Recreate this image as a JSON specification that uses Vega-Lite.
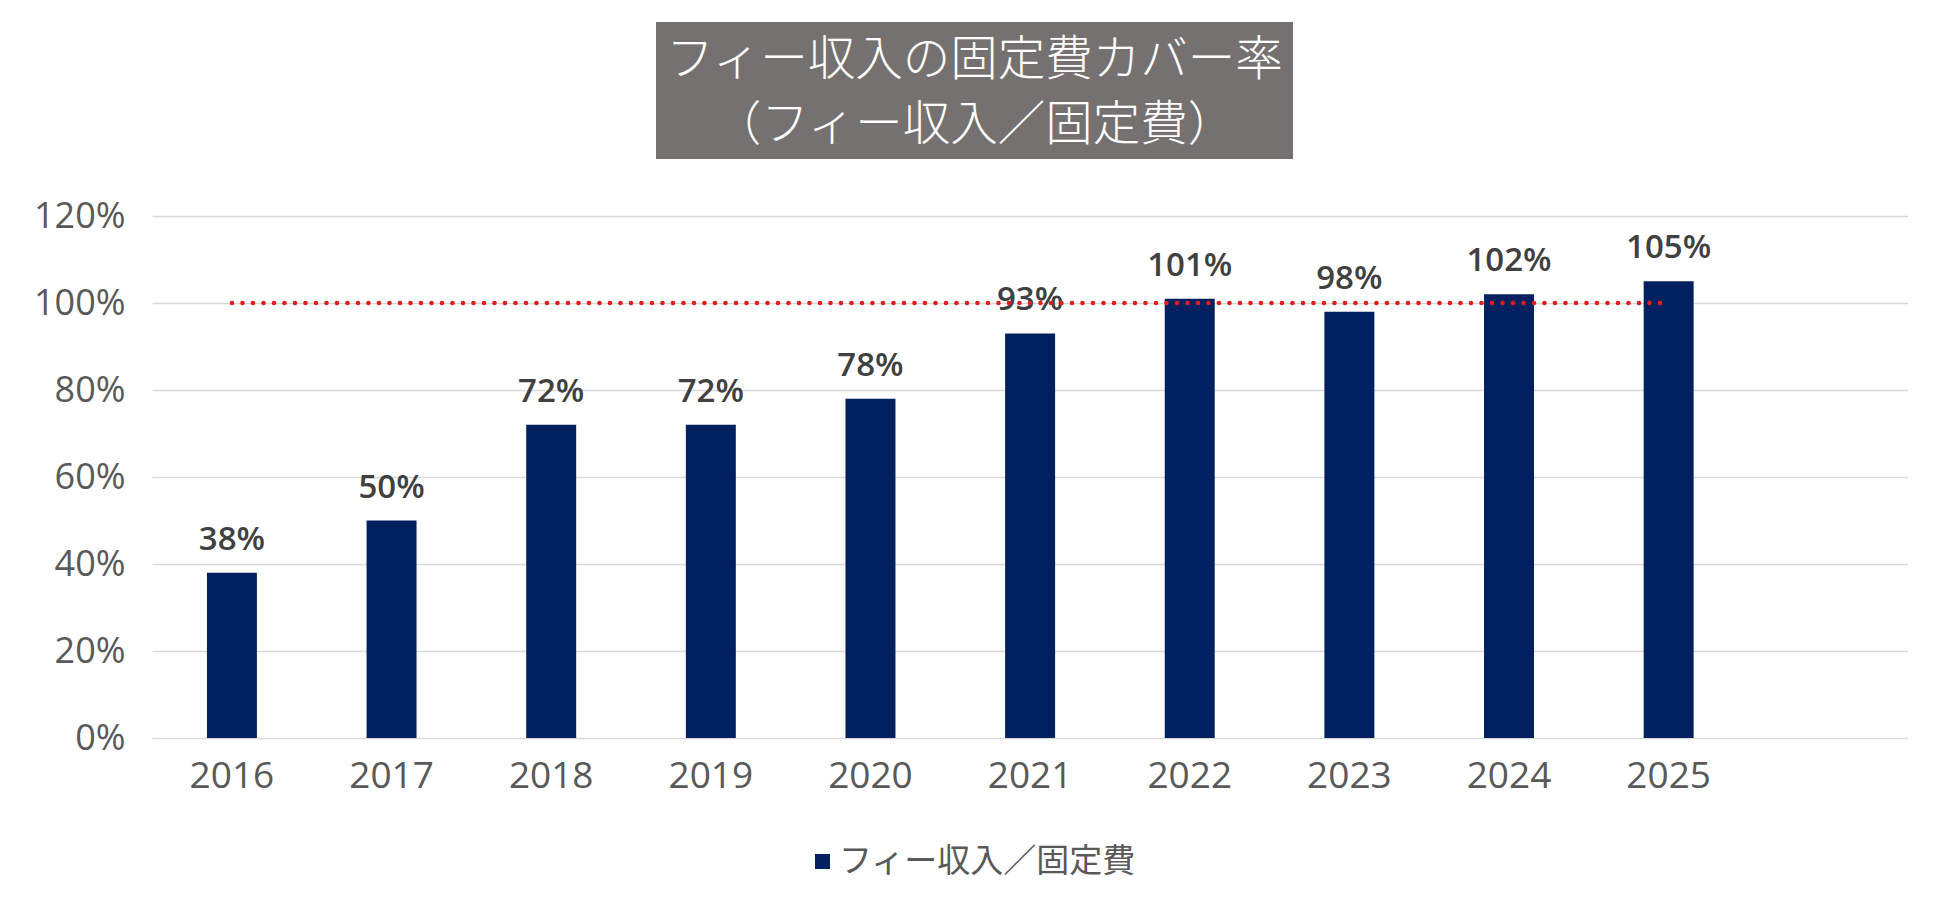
{
  "$schema": "https://vega.github.io/schema/vega-lite/v6.json",
  "background": "white",
  "autosize": {"type": "pad"},
  "padding": {"left": 33, "top": 22, "right": 0, "bottom": 0},
  "config": {
    "font": "Open Sans",
    "view": {"stroke": null}
  },
  "center": true,
  "bounds": "full",
  "spacing": 39,
  "resolve": {"legend": {"color": "independent"}},
  "vconcat": [
    {
      "spacing": 0,
      "hconcat": [
        {
          "width": 637,
          "height": 137,
          "view": {"fill": "#767171", "stroke": null},
          "data": {
            "values": [
              {"line": 1, "label": "フィー収入の固定費カバー率"},
              {"line": 2, "label": "（フィー収入／固定費）"}
            ]
          },
          "mark": {
            "type": "text",
            "font": "Noto Sans CJK JP",
            "fontSize": 47.5,
            "fontWeight": 300,
            "color": "#FFFFFF",
            "align": "center",
            "baseline": "middle",
            "dy": 3
          },
          "encoding": {
            "y": {
              "field": "line",
              "type": "ordinal",
              "axis": null,
              "scale": {"type": "point", "padding": 0.554}
            },
            "text": {"field": "label"}
          }
        },
        {
          "width": 111,
          "height": 137,
          "data": {"values": []},
          "mark": "point",
          "encoding": {}
        }
      ]
    },
    {
      "width": 1756,
      "height": 522,
      "data": {
        "values": [
          {"year": "2016", "ratio": 0.38},
          {"year": "2017", "ratio": 0.50},
          {"year": "2018", "ratio": 0.72},
          {"year": "2019", "ratio": 0.72},
          {"year": "2020", "ratio": 0.78},
          {"year": "2021", "ratio": 0.93},
          {"year": "2022", "ratio": 1.01},
          {"year": "2023", "ratio": 0.98},
          {"year": "2024", "ratio": 1.02},
          {"year": "2025", "ratio": 1.05}
        ]
      },
      "encoding": {
        "x": {
          "field": "year",
          "type": "ordinal",
          "scale": {"paddingInner": 0.687, "paddingOuter": 0.8435, "align": 0.204},
          "axis": {
            "title": null,
            "labelAngle": 0,
            "ticks": false,
            "domain": false,
            "grid": false,
            "labelFont": "Open Sans",
            "labelFontSize": 37,
            "labelColor": "#595959",
            "labelPadding": 20
          }
        }
      },
      "layer": [
        {
          "mark": {"type": "bar"},
          "encoding": {
            "y": {
              "field": "ratio",
              "type": "quantitative",
              "scale": {"domain": [0, 1.2], "nice": false},
              "axis": {
                "title": null,
                "format": ".0%",
                "values": [0, 0.2, 0.4, 0.6, 0.8, 1.0, 1.2],
                "ticks": false,
                "domain": false,
                "grid": true,
                "gridColor": "#D9D9D9",
                "gridWidth": 1.5,
                "labelFont": "Open Sans",
                "labelFontSize": 36,
                "labelColor": "#595959",
                "labelPadding": 27
              }
            },
            "color": {
              "datum": "フィー収入／固定費",
              "scale": {"range": ["#002060"]},
              "legend": {
                "title": null,
                "orient": "none",
                "legendX": 654,
                "legendY": 629,
                "direction": "horizontal",
                "symbolType": "square",
                "symbolSize": 225,
                "symbolStrokeWidth": 0,
                "labelFont": "Noto Sans CJK JP",
                "labelFontSize": 33,
                "labelColor": "#595959",
                "labelOffset": 0,
                "labelLimit": 400,
                "padding": 0
              }
            }
          }
        },
        {
          "mark": {
            "type": "text",
            "baseline": "alphabetic",
            "dy": -23,
            "font": "Open Sans",
            "fontSize": 33,
            "fontWeight": 600,
            "color": "#404040"
          },
          "encoding": {
            "y": {"field": "ratio", "type": "quantitative"},
            "text": {"field": "ratio", "format": ".0%"}
          }
        },
        {
          "data": {"values": [{"target": 1.0}]},
          "mark": {
            "type": "rule",
            "color": "#E01E1E",
            "strokeWidth": 4.5,
            "strokeCap": "round",
            "strokeDash": [0.1, 10.4]
          },
          "encoding": {
            "x": {"datum": "2016", "bandPosition": 0.5},
            "x2": {"datum": "2025", "bandPosition": 0.5},
            "y": {"field": "target", "type": "quantitative"}
          }
        }
      ]
    }
  ]
}
